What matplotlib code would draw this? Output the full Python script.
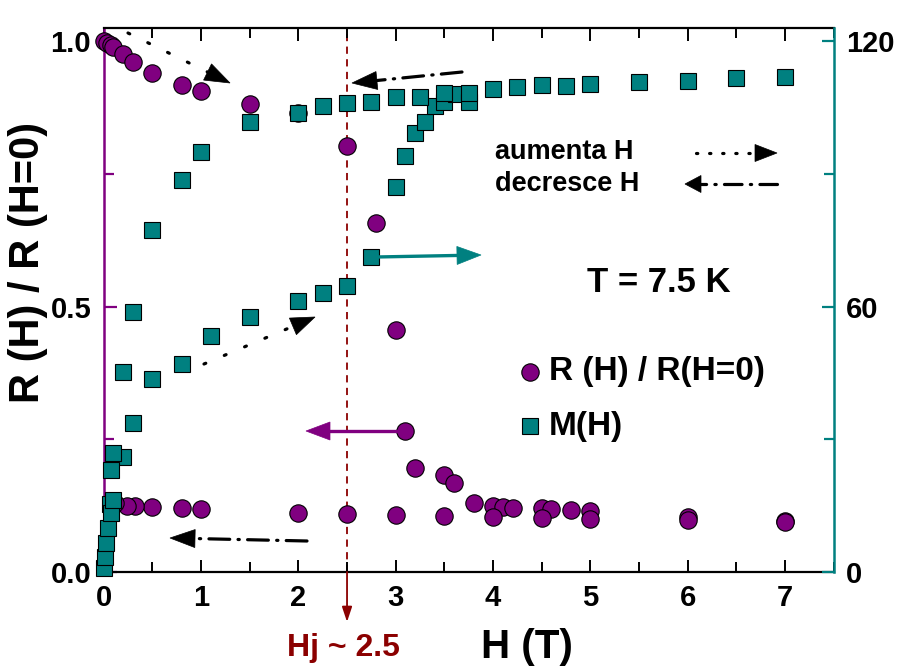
import math
import matplotlib
matplotlib.use("Agg")
import matplotlib.pyplot as plt
from matplotlib.lines import Line2D
from matplotlib.patches import Polygon
from matplotlib.ticker import MultipleLocator

plt.rcParams['font.family'] = ['Liberation Sans', 'DejaVu Sans']
plt.rcParams['font.weight'] = 'bold'

# ---------------- data ----------------
# R(H)/R(H=0), increasing field branch
H_R_up = [0.0, 0.03, 0.07, 0.1, 0.2, 0.3, 0.5, 0.8, 1.0, 1.5, 2.0, 2.5, 2.8, 3.0,
          3.1, 3.2, 3.5, 3.6, 3.8, 4.0, 4.1, 4.2, 4.5, 4.6, 4.8, 5.0, 6.0, 7.0]
R_up = [1.0, 0.997, 0.992, 0.988, 0.975, 0.961, 0.939, 0.917, 0.905, 0.881, 0.865,
        0.802, 0.658, 0.456, 0.266, 0.195, 0.182, 0.167, 0.130, 0.124, 0.122, 0.121,
        0.120, 0.119, 0.117, 0.114, 0.103, 0.096]
# R(H)/R(H=0), decreasing field branch
H_R_down = [7.0, 6.0, 5.0, 4.5, 4.0, 3.5, 3.0, 2.5, 2.0, 1.0, 0.8, 0.5, 0.32, 0.24, 0.12]
R_down = [0.095, 0.098, 0.100, 0.101, 0.103, 0.105, 0.107, 0.109, 0.112, 0.119,
          0.120, 0.123, 0.124, 0.124, 0.130]

# M(H), increasing field branch
H_M_up = [0.0, 0.013, 0.024, 0.04, 0.06, 0.08, 0.1, 0.2, 0.3, 0.5, 0.8, 1.1, 1.5,
          2.0, 2.25, 2.5, 2.75, 3.0, 3.1, 3.2, 3.3, 3.4, 3.5, 3.62, 3.75]
M_up = [0.8, 3.5, 6.5, 10.0, 15.4, 13.3, 16.3, 26.1, 33.7, 43.6, 46.9, 53.4, 57.7,
        61.3, 63.0, 64.6, 71.3, 87.1, 93.9, 99.1, 101.8, 105.4, 106.3, 108.0, 106.3]
# M(H), decreasing field branch
H_M_down = [7.0, 6.5, 6.0, 5.5, 5.0, 4.75, 4.5, 4.25, 4.0, 3.75, 3.5, 3.25, 3.0,
            2.75, 2.5, 2.25, 2.0, 1.5, 1.0, 0.8, 0.5, 0.3, 0.2, 0.1, 0.08]
M_down = [111.9, 111.7, 111.0, 110.8, 110.2, 109.9, 110.1, 109.5, 109.1, 108.3,
          108.2, 107.4, 107.4, 106.3, 106.1, 105.2, 103.8, 101.8, 95.0, 88.7, 77.3,
          58.8, 45.1, 27.0, 23.0]

x_ticks = [0, 1, 2, 3, 4, 5, 6, 7]
left_ticks = [0.0, 0.5, 1.0]
left_tick_labels = ['0.0', '0.5', '1.0']
right_ticks = [0, 60, 120]
H_junction = 2.5

# ---------------- style ----------------
PURPLE = '#800080'
TEAL = '#008080'
DARKRED = '#8B0000'
W, Hpx = 902, 666

fig = plt.figure(figsize=(W / 100, Hpx / 100), dpi=100)
ax = fig.add_axes([103.7 / W, 94 / Hpx, 730 / W, 544 / Hpx])
ax2 = ax.twinx()

ax.set_xlim(0, 7.5)
ax.set_ylim(0, 1.0245)
ax2.set_ylim(0, 1.0245 * 120)

# dashed junction line
ax.axvline(H_junction, color=DARKRED, lw=1.3, ls=(0, (4, 3)), zorder=1)
ax.annotate('', xy=(H_junction, -0.094), xytext=(H_junction, 0.0),
            arrowprops=dict(arrowstyle='-|>,head_length=0.9,head_width=0.3',
                            color=DARKRED, lw=1.3, mutation_scale=10,
                            shrinkA=0, shrinkB=0),
            annotation_clip=False)

circ = dict(ls='none', marker='o', ms=12.5, mfc=PURPLE, mec='black', mew=0.8,
            clip_on=False, zorder=3)
sq = dict(ls='none', marker='s', ms=11, mfc=TEAL, mec='black', mew=0.8,
          clip_on=False, zorder=3)
ax.plot(H_R_up, R_up, **circ)
ax.plot(H_R_down, R_down, **circ)
ax2.plot(H_M_up, M_up, **sq)
ax2.plot(H_M_down, M_down, **sq)

# spines
for s in ['top', 'bottom']:
    ax.spines[s].set_linewidth(1.6)
    ax.spines[s].set_color('black')
ax.spines['left'].set_color(PURPLE)
ax.spines['left'].set_linewidth(1.8)
ax.spines['right'].set_visible(False)
for s in ['left', 'top', 'bottom']:
    ax2.spines[s].set_visible(False)
ax2.spines['right'].set_color(TEAL)
ax2.spines['right'].set_linewidth(1.8)

# ticks
ax.set_xticks(x_ticks)
ax.xaxis.set_minor_locator(MultipleLocator(0.5))
ax.tick_params(axis='x', which='both', direction='in', top=True, bottom=True,
               width=1.4, labelsize=21, pad=9, color='black')
ax.tick_params(axis='x', which='major', length=9)
ax.tick_params(axis='x', which='minor', length=7)
ax.set_yticks(left_ticks)
ax.set_yticklabels(left_tick_labels)
ax.yaxis.set_minor_locator(MultipleLocator(0.25))
ax.tick_params(axis='y', which='both', direction='in', left=True, right=False,
               color=PURPLE, width=1.6, labelsize=21, pad=9, labelcolor='black')
ax.tick_params(axis='y', which='major', length=9)
ax.tick_params(axis='y', which='minor', length=7)
ax2.set_yticks(right_ticks)
ax2.yaxis.set_minor_locator(MultipleLocator(30))
ax2.tick_params(axis='y', which='both', direction='in', right=True, left=False,
                color=TEAL, width=1.6, labelsize=21, pad=9, labelcolor='black')
ax2.tick_params(axis='y', which='major', length=9)
ax2.tick_params(axis='y', which='minor', length=7)
for lab in ax.get_xticklabels() + ax.get_yticklabels() + ax2.get_yticklabels():
    lab.set_fontweight('bold')


def F(x, y):
    return (x / W, 1 - y / Hpx)


def arrow(tail, tip, ls, color, lw, hl, hw):
    (tx, ty), (px, py) = tail, tip
    dx, dy = px - tx, py - ty
    d = math.hypot(dx, dy)
    ux, uy = dx / d, dy / d
    bx, by = px - ux * hl, py - uy * hl
    ex, ey = bx + ux * 2, by + uy * 2
    a, b = F(tx, ty), F(ex, ey)
    fig.add_artist(Line2D([a[0], b[0]], [a[1], b[1]], transform=fig.transFigure,
                          color=color, lw=lw, ls=ls, dash_capstyle='round',
                          solid_capstyle='butt'))
    pts = [F(px, py), F(bx - uy * hw, by + ux * hw), F(bx + uy * hw, by - ux * hw)]
    fig.add_artist(Polygon(pts, closed=True, transform=fig.transFigure,
                           facecolor=color, edgecolor=color, lw=0.5))


DOT = (0, (0.6, 6.3))
DASHDOT = (0, (6.5, 2.6, 0.4, 2.6))
arrow((128, 33), (230, 83), DOT, 'black', 2.3, 25, 9)
arrow((462, 72), (352, 83), DASHDOT, 'black', 2.3, 25, 9)
arrow((204, 364), (315, 317), DOT, 'black', 2.3, 24, 9)
arrow((307, 541), (170, 538), DASHDOT, 'black', 2.3, 25, 9)
arrow((376, 257), (481, 255), '-', TEAL, 2.4, 24, 9)
arrow((405, 431), (306, 431), '-', PURPLE, 2.4, 24, 9)
arrow((696, 153), (777, 153), (0, (0.4, 3.7)), 'black', 2.3, 22, 8.5)
arrow((777, 184), (685, 184), (0, (5.5, 2.6, 0.4, 2.6)), 'black', 2.3, 16, 8.5)

# texts
fig.text(*F(495, 152), 'aumenta H', fontsize=19.5, fontweight='bold', ha='left', va='center')
fig.text(*F(495, 184), 'decresce H', fontsize=19.5, fontweight='bold', ha='left', va='center')
fig.text(*F(659, 283), 'T = 7.5 K', fontsize=25, fontweight='bold', ha='center', va='center')
fig.text(*F(28, 262), 'R (H) / R (H=0)', fontsize=30, fontweight='bold', rotation=90,
         ha='center', va='center')
fig.text(*F(527, 658), 'H (T)', fontsize=29, fontweight='bold', ha='center', va='baseline')
fig.text(*F(343, 656), 'Hj ~ 2.5', fontsize=23, fontweight='bold', color=DARKRED,
         ha='center', va='baseline')

# legend (manual)
fig.add_artist(Line2D([530 / W], [1 - 372 / Hpx], transform=fig.transFigure, **circ))
fig.add_artist(Line2D([530 / W], [1 - 426 / Hpx], transform=fig.transFigure, **sq))
fig.text(*F(549, 372), 'R (H) / R(H=0)', fontsize=24, fontweight='bold', ha='left', va='center')
fig.text(*F(549, 426), 'M(H)', fontsize=24, fontweight='bold', ha='left', va='center')

fig.savefig('out.png', dpi=100)
